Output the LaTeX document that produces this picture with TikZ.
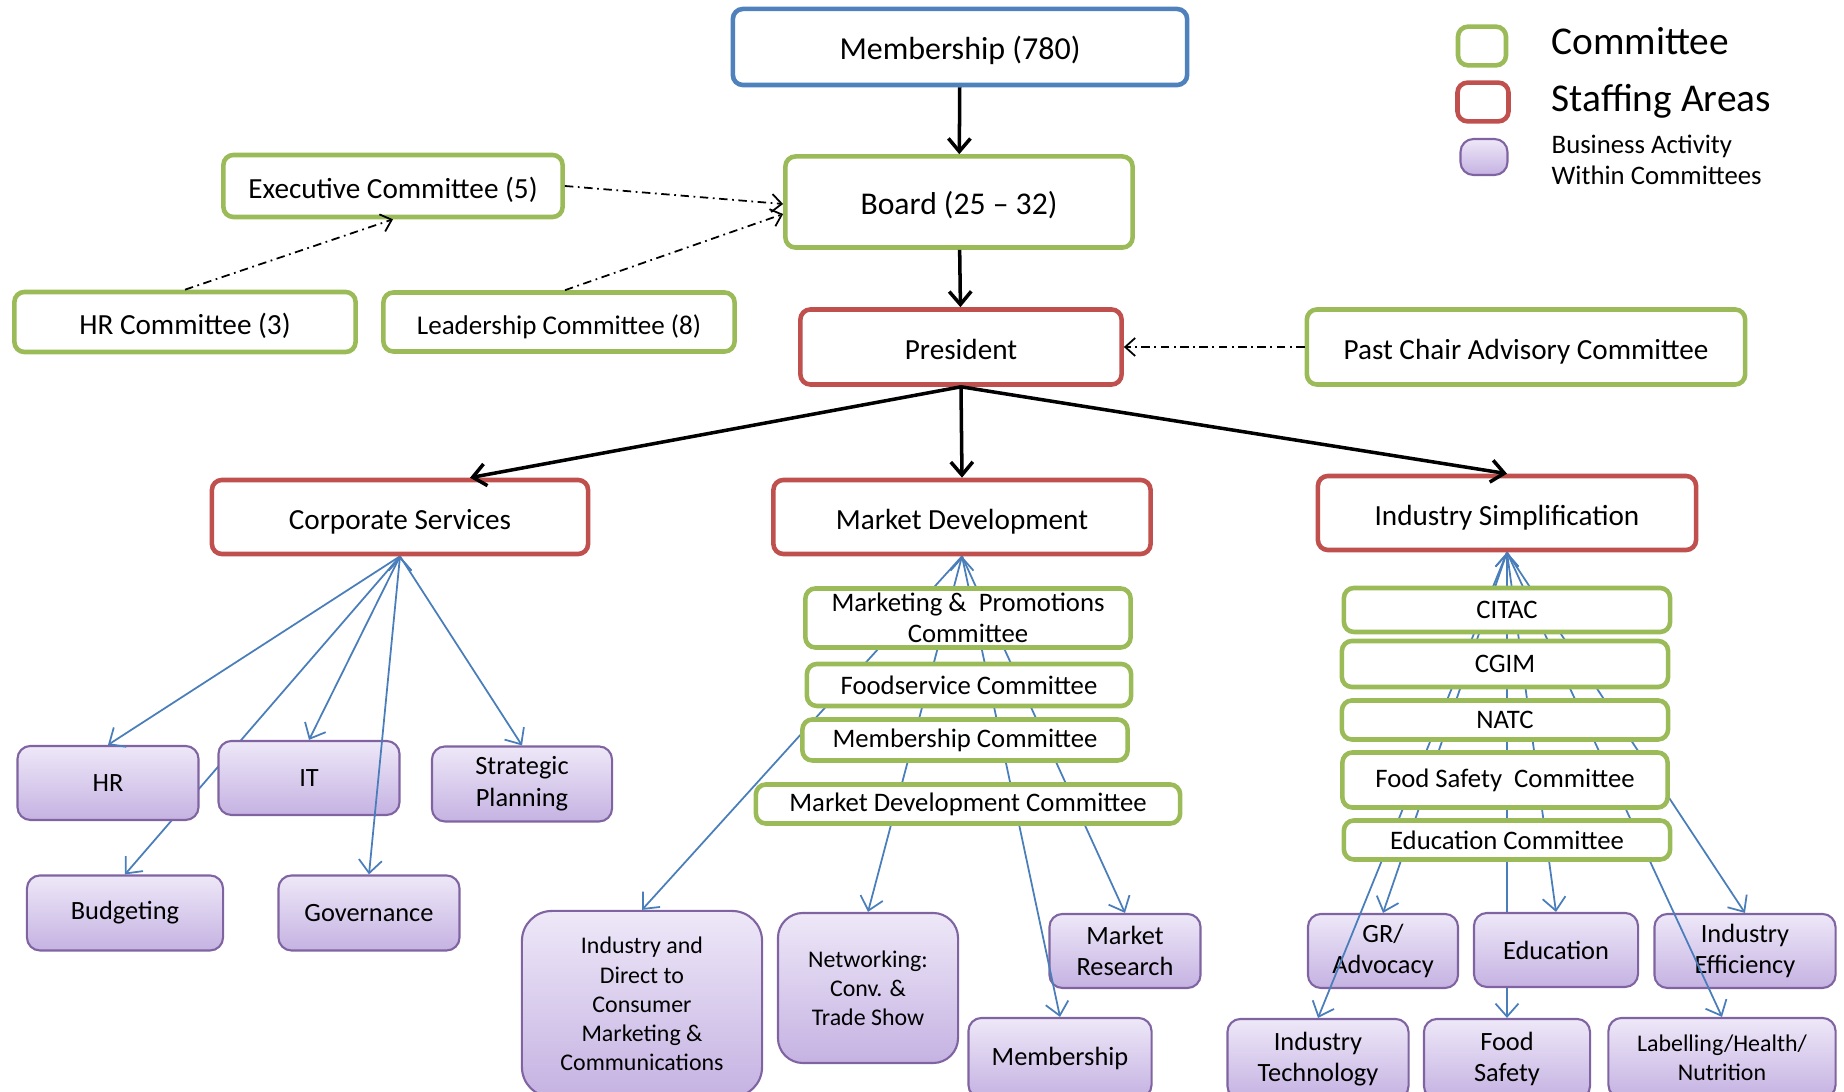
\documentclass[tikz,border=0pt]{standalone}
\usepackage{fontspec}
\setmainfont{Carlito}
\usetikzlibrary{arrows.meta, positioning}

\definecolor{comgreen}{HTML}{9BBB59}
\definecolor{staffred}{HTML}{C0504D}
\definecolor{memblue}{HTML}{4F81BD}
\definecolor{linkblue}{HTML}{4A7EBB}
\definecolor{actedge}{HTML}{8064A2}
\definecolor{acttop}{HTML}{EEE8F8}
\definecolor{actbot}{HTML}{C5B2E2}

\pgfdeclarelayer{low}
\pgfdeclarelayer{actlayer}
\pgfdeclarelayer{high}
\pgfsetlayers{low,actlayer,high,main}

\begin{document}
\begin{tikzpicture}[x=0.01cm, y=-0.01cm,
        box/.style={draw, fill=white, rounded corners=1mm, line width=1.3pt, inner sep=0pt, align=center, text height=0.9em, text depth=0.2em},
        comm/.style={box, draw=comgreen},
        staff/.style={box, draw=staffred},
        activity/.style={draw=actedge, line width=0.6pt, rounded corners=1.3mm, top color=acttop, bottom color=actbot, inner sep=0pt, align=center, font=\fontsize{7.5}{9}\selectfont},
        big/.style={font=\fontsize{8.3}{10}\selectfont},
        small/.style={font=\fontsize{7.6}{8.8}\selectfont, text height=, text depth=},
        tiny/.style={font=\fontsize{6.8}{8.3}\selectfont},
        chain/.style={line width=1pt, -{Straight Barb[length=1.3mm, width=2.2mm]}},
        advise/.style={line width=0.5pt, dash pattern=on 2.4pt off 1.3pt on 0.5pt off 1.3pt, -{Straight Barb[length=1mm, width=1.8mm]}},
        link/.style={draw=linkblue, line width=0.5pt, -{Straight Barb[length=1.3mm, width=2.3mm]}}]
    \useasboundingbox (0,0) rectangle (1844,1092);
    \clip (0,0) rectangle (1844,1092);

    % governance
    \node[box, draw=memblue, font=\fontsize{9.1}{11}\selectfont, minimum width=4.54cm, minimum height=7.6mm] (mem) at (960,47) {Membership (780)};
    \node[comm, font=\fontsize{9}{11}\selectfont, minimum width=3.47cm, minimum height=9.1mm] (board) at (959,202) {Board (25 -- 32)};
    \node[comm, big, minimum width=3.39cm, minimum height=6.2mm] (exec) at (393,186) {Executive Committee (5)};
    \node[comm, big, minimum width=3.41cm, minimum height=6mm] (hrc) at (185,322) {HR Committee (3)};
    \node[comm, font=\fontsize{7.7}{10}\selectfont, minimum width=3.51cm, minimum height=5.9mm] (lead) at (559,322) {Leadership Committee (8)};
    \node[staff, big, minimum width=3.21cm, minimum height=7.5mm] (pres) at (961,347) {President};
    \node[comm, big, minimum width=4.38cm, minimum height=7.5mm] (past) at (1526,347) {Past Chair Advisory Committee};

    % staffing areas
    \node[staff, big, minimum width=3.76cm, minimum height=7.4mm] (cs) at (400,517) {Corporate Services};
    \node[staff, big, minimum width=3.77cm, minimum height=7.4mm] (md) at (962,517) {Market Development};
    \node[staff, big, minimum width=3.78cm, minimum height=7.4mm] (is) at (1507,513) {Industry Simplification};

    % committees
    \node[comm, small, minimum width=3.25cm, minimum height=5.9mm] (mpc) at (968,618) {Marketing \&~ Promotions\\Committee};
    \node[comm, small, minimum width=3.24cm, minimum height=4.2mm] (fsc) at (969,685) {Foodservice Committee};
    \node[comm, small, minimum width=3.25cm, minimum height=4.1mm] (msc) at (965,740) {Membership Committee};
    \node[comm, small, minimum width=4.24cm, minimum height=3.9mm] (mdc) at (968,804) {Market Development Committee};
    \node[comm, small, minimum width=3.26cm, minimum height=4.4mm] (citac) at (1507,610) {CITAC};
    \node[comm, small, minimum width=3.26cm, minimum height=4.6mm] (cgim) at (1505,664) {CGIM};
    \node[comm, small, minimum width=3.26cm, minimum height=3.9mm] (natc) at (1505,720) {NATC};
    \node[comm, small, minimum width=3.25cm, minimum height=5.5mm] (fsafe) at (1505,780) {Food Safety~ Committee};
    \node[comm, small, minimum width=3.26cm, minimum height=3.9mm] (educ) at (1507,840) {Education Committee};

    % business activities
    \begin{pgfonlayer}{actlayer}
        \node[activity, minimum width=1.81cm, minimum height=7.4mm] (hr) at (108,783) {HR};
        \node[activity, minimum width=1.81cm, minimum height=7.4mm] (it) at (309,778) {IT};
        \node[activity, minimum width=1.8cm, minimum height=7.5mm] (strat) at (522,784) {Strategic\\Planning};
        \node[activity, minimum width=1.96cm, minimum height=7.5mm] (budget) at (125,913) {Budgeting};
        \node[activity, minimum width=1.81cm, minimum height=7.5mm] (gov) at (369,913) {Governance};
        \node[activity, tiny, rounded corners=3mm, minimum width=2.4cm, minimum height=18.6mm] (idc) at (642,1004) {Industry and\\Direct to\\Consumer\\Marketing \&\\Communications};
        \node[activity, tiny, rounded corners=2.5mm, minimum width=1.8cm, minimum height=15mm] (net) at (868,988) {Networking:\\Conv. \&\\Trade Show};
        \node[activity, minimum width=1.51cm, minimum height=7.4mm] (mr) at (1125,951) {Market\\Research};
        \node[activity, minimum width=1.83cm, minimum height=8mm] (memb) at (1060,1058) {Membership};
        \node[activity, minimum width=1.5cm, minimum height=7.4mm] (gr) at (1383,951) {GR/\\Advocacy};
        \node[activity, minimum width=1.64cm, minimum height=7.4mm] (edu) at (1556,950) {Education};
        \node[activity, minimum width=1.81cm, minimum height=7.4mm] (ie) at (1745,951) {Industry\\Efficiency};
        \node[activity, minimum width=1.81cm, minimum height=8mm] (itech) at (1318,1059) {Industry\\Technology};
        \node[activity, minimum width=1.66cm, minimum height=8mm] (food) at (1507,1059) {Food\\Safety};
        \node[activity, tiny, minimum width=2.27cm, minimum height=8mm] (lab) at (1722,1058) {Labelling/Health/\\Nutrition};
    \end{pgfonlayer}

    % legend
    \node[box, draw=comgreen, minimum width=4.8mm, minimum height=3.7mm] (keycomm) at (1482,46) {};
    \node[box, draw=staffred, minimum width=5.1mm, minimum height=3.4mm] (keystaff) at (1483,102) {};
    \node[activity, minimum width=4.7mm, minimum height=3.6mm] (keyact) at (1484,157) {};
    \node[anchor=west, inner sep=0pt, font=\fontsize{11.2}{13}\selectfont] (keycommtxt) at (1551,41) {Committee};
    \node[anchor=west, inner sep=0pt, font=\fontsize{11.2}{13}\selectfont] (keystafftxt) at (1551,101) {Staffing Areas};
    \node[anchor=west, inner sep=0pt, align=left, font=\fontsize{7.6}{9}\selectfont] (keyacttxt) at (1551,160) {Business Activity\\Within Committees};

    % reporting lines
    \path[chain]
        (mem) edge (board)
        (board) edge (pres)
        (pres.south) edge ([xshift=7mm]cs.north)
        (pres.south) edge (md.north)
        (pres.south) edge (is.north);
    \path[advise]
        (exec.east) edge ([yshift=-0.2mm]board.west)
        (hrc.north) edge (exec.south)
        ([xshift=0.6mm]lead.north) edge ([yshift=-1.2mm]board.west)
        (past) edge (pres);

    % activity links
    \begin{pgfonlayer}{low}
        \path[link] (cs.south) edge (budget.north);
        \path[link] (is.south) edge (food.north);
    \end{pgfonlayer}
    \begin{pgfonlayer}{high}
        \path[link] (cs.south) edge (hr.north) edge (it.north) edge (gov.north) edge (strat.north);
        \path[link] (md.south) edge (idc.north) edge (net.north) edge (memb.north) edge (mr.north);
        \path[link] (is.south) edge (gr.north) edge (itech.north) edge (edu.north) edge (ie.north) edge (lab.north);
    \end{pgfonlayer}
\end{tikzpicture}
\end{document}
